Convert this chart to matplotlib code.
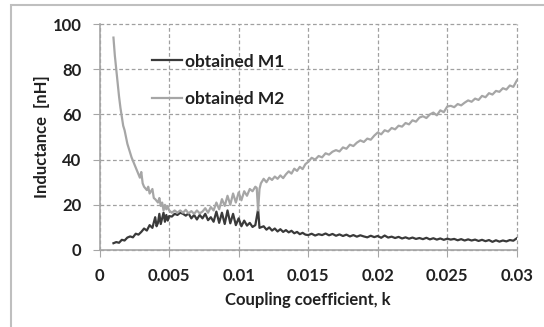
import numpy as np
import matplotlib.pyplot as plt
from matplotlib.patches import Rectangle

plt.rcParams['font.family'] = ['Lato', 'DejaVu Sans']

# head part of M1 (k, inductance nH)
m1_k_head = [0.0010, 0.0012, 0.0014, 0.0016, 0.0018, 0.0020, 0.0022, 0.0024, 0.0026, 0.0028,
             0.0030, 0.0032, 0.0034, 0.0036, 0.0038, 0.0040, 0.0041, 0.0042, 0.0043, 0.0044,
             0.0045, 0.0046, 0.0047, 0.0048, 0.0049, 0.0050, 0.0052, 0.0054, 0.0056, 0.0058,
             0.0060, 0.0062, 0.0064, 0.0066, 0.0068, 0.0070, 0.0072, 0.0074, 0.0076, 0.0078,
             0.0080, 0.0082, 0.0084, 0.0086, 0.0088, 0.0090, 0.0092, 0.0094, 0.0096, 0.0098,
             0.0100, 0.0102, 0.0104, 0.0106, 0.0108, 0.0110, 0.0112, 0.0114, 0.0115, 0.0118,
             0.0120, 0.0122, 0.0124, 0.0126, 0.0128, 0.0130, 0.0132, 0.0134, 0.0136, 0.0138,
             0.0140, 0.0142, 0.0144, 0.0146, 0.0148, 0.0150]
m1_head = [3.0, 3.5, 3.2, 4.5, 4.2, 5.5, 6.0, 5.6, 7.2, 6.8,
           8.0, 9.5, 8.6, 11.0, 9.8, 14.5, 10.5, 12.0, 16.0, 11.5,
           14.0, 16.5, 12.5, 15.5, 13.0, 15.0, 14.8, 16.0, 15.5, 16.5,
           16.0, 15.2, 16.2, 14.0, 15.5, 13.5, 15.5, 14.0, 16.0, 13.2,
           14.5, 12.5, 17.0, 12.0, 16.5, 11.5, 17.5, 11.8, 16.0, 11.0,
           14.0, 10.5, 13.0, 10.8, 12.0, 10.2, 11.0, 18.0, 9.8, 10.5,
           9.0, 10.0, 8.6, 9.5, 8.2, 9.2, 8.0, 8.8, 7.8, 8.5,
           7.4, 8.0, 7.0, 7.6, 6.8, 6.6]

# head part of M2
m2_k_head = [0.0010, 0.0011, 0.0012, 0.0013, 0.0014, 0.0015, 0.0016, 0.0017, 0.0018, 0.0019,
             0.0020, 0.0021, 0.0022, 0.0023, 0.0024, 0.0025, 0.0026, 0.0027, 0.0028, 0.0029,
             0.0030, 0.0031, 0.0032, 0.0034, 0.0035, 0.0036, 0.0038, 0.0039, 0.0040, 0.0042,
             0.0043, 0.0044, 0.0045, 0.0046, 0.0047, 0.0048, 0.0049, 0.0050, 0.0052, 0.0054,
             0.0056, 0.0058, 0.0060, 0.0062, 0.0064, 0.0066, 0.0068, 0.0070, 0.0072, 0.0074,
             0.0076, 0.0078, 0.0080, 0.0082, 0.0084, 0.0086, 0.0088, 0.0090, 0.0092, 0.0094,
             0.0096, 0.0098, 0.0100, 0.0102, 0.0104, 0.0106, 0.0108, 0.0110, 0.0112, 0.0113,
             0.0114, 0.0115, 0.0116, 0.0118, 0.0120, 0.0122, 0.0124, 0.0126, 0.0128, 0.0130,
             0.0132, 0.0134, 0.0136, 0.0138, 0.0140, 0.0142, 0.0144, 0.0146, 0.0148, 0.0150]
m2_head = [94.0, 86.0, 80.0, 74.0, 68.0, 63.0, 59.0, 55.0, 53.0, 50.0,
           47.0, 45.0, 43.0, 41.0, 39.5, 38.0, 36.5, 35.0, 33.5, 32.0,
           34.5, 29.5, 28.0, 26.5, 28.0, 25.0, 27.0, 23.0, 22.5, 21.0,
           23.0, 19.5, 21.0, 17.5, 20.0, 18.0, 19.5, 17.5, 16.5, 17.5,
           16.5, 17.5, 16.5, 17.8, 16.2, 17.2, 16.0, 17.5, 16.2, 17.0,
           18.5, 16.5, 19.0, 17.5, 21.0, 18.0, 22.5, 19.5, 24.0, 20.0,
           25.0, 21.0, 25.5, 22.0, 26.0, 24.0, 27.0, 26.0, 28.0, 27.5,
           17.5, 27.0, 29.5, 31.5, 30.0, 32.0, 31.0, 32.5, 31.5, 33.0,
           31.8, 33.5, 34.8, 33.8, 36.0, 35.0, 36.8, 35.8, 38.0, 39.0]

# shared k for the tails
k_tail = [0.01525, 0.0155, 0.01575, 0.0160, 0.01625, 0.0165, 0.01675, 0.0170, 0.01725, 0.0175,
          0.01775, 0.0180, 0.01825, 0.0185, 0.01875, 0.0190, 0.01925, 0.0195, 0.01975, 0.0200,
          0.02025, 0.0205, 0.02075, 0.0210, 0.02125, 0.0215, 0.02175, 0.0220, 0.02225, 0.0225,
          0.02275, 0.0230, 0.02325, 0.0235, 0.02375, 0.0240, 0.02425, 0.0245, 0.02475, 0.0250,
          0.02525, 0.0255, 0.02575, 0.0260, 0.02625, 0.0265, 0.02675, 0.0270, 0.02725, 0.0275,
          0.02775, 0.0280, 0.02825, 0.0285, 0.02875, 0.0290, 0.02925, 0.0295, 0.02975, 0.0300]
m1_tail = [7.2, 6.4, 7.0, 6.6, 7.3, 6.5, 7.1, 6.3, 6.9, 6.2,
           6.8, 6.0, 6.6, 5.9, 6.5, 6.0, 5.6, 6.3, 5.7, 6.2,
           5.4, 6.4, 5.5, 5.9, 5.3, 5.8, 5.1, 5.6, 5.0, 5.5,
           4.9, 5.3, 4.8, 5.4, 4.7, 5.2, 4.6, 5.1, 4.5, 5.0,
           4.6, 4.9, 4.3, 4.8, 4.2, 4.7, 4.2, 4.6, 4.0, 4.5,
           3.9, 4.4, 3.6, 4.3, 3.7, 4.2, 3.8, 4.4, 4.1, 5.2]
m2_tail = [40.8, 40.0, 41.6, 41.0, 42.8, 42.2, 43.5, 44.2, 43.6, 45.4,
           44.8, 46.6, 46.0, 47.5, 48.5, 47.8, 49.3, 48.8, 50.6, 52.0,
           51.2, 53.0, 52.4, 54.0, 53.4, 55.0, 54.6, 56.2, 55.6, 57.4,
           56.8, 58.6, 59.2, 58.4, 60.0, 60.8, 59.6, 61.8, 61.0, 63.5,
           63.8, 63.2, 64.6, 64.0, 65.2, 66.2, 65.6, 67.0, 66.4, 68.2,
           67.6, 69.4, 68.8, 70.4, 70.0, 71.6, 71.0, 72.8, 72.2, 75.0]

m1_k = m1_k_head + k_tail
m1 = m1_head + m1_tail
m2_k = m2_k_head + k_tail
m2 = m2_head + m2_tail

fig = plt.figure(figsize=(5.44, 3.27), dpi=100)
ax = fig.add_axes([0.183, 0.2355, 0.767, 0.691])

ax.plot(m1_k, m1, color='#3a3a3a', lw=1.6, label='obtained M1')
ax.plot(m2_k, m2, color='#a6a6a6', lw=1.6, label='obtained M2')

ax.set_xlim(0, 0.03)
ax.set_ylim(0, 100)
ax.set_xticks([0, 0.005, 0.01, 0.015, 0.02, 0.025, 0.03])
ax.set_xticklabels(['0', '0.005', '0.01', '0.015', '0.02', '0.025', '0.03'])
ax.set_yticks([0, 20, 40, 60, 80, 100])
ax.grid(True, color='#a0a0a0', linestyle=(0, (3, 2)), lw=0.9)
for gl in ax.get_xgridlines() + ax.get_ygridlines():
    gl.set_clip_on(False)
for s in ['top', 'right']:
    ax.spines[s].set_visible(False)
for s in ['left', 'bottom']:
    ax.spines[s].set_color('#a6a6a6')
    ax.spines[s].set_linewidth(1.2)
ax.tick_params(length=5, color='#a6a6a6', labelsize=12, pad=8)
for lab in ax.get_xticklabels() + ax.get_yticklabels():
    lab.set_fontweight('bold')
    lab.set_color('#202020')

ax.set_xlabel('Coupling coefficient, k', fontsize=12, fontweight='bold', labelpad=6, color='#202020')
ax.set_ylabel('Inductance  [nH]', fontsize=12, fontweight='bold', labelpad=2, color='#202020')

ax.legend(loc='upper left', bbox_to_anchor=(0.11, 0.90), frameon=False,
          prop={'size': 12.5, 'weight': 'bold'}, handlelength=1.7, handletextpad=0.15,
          labelspacing=1.22, borderaxespad=0)
for t in ax.get_legend().get_texts():
    t.set_color('#202020')

fig.patches.append(Rectangle((0.021, -0.1), 1.2, 1.085, transform=fig.transFigure,
                             fill=False, edgecolor='#bfbfbf', lw=1.5))

fig.savefig('out.png', dpi=100)
